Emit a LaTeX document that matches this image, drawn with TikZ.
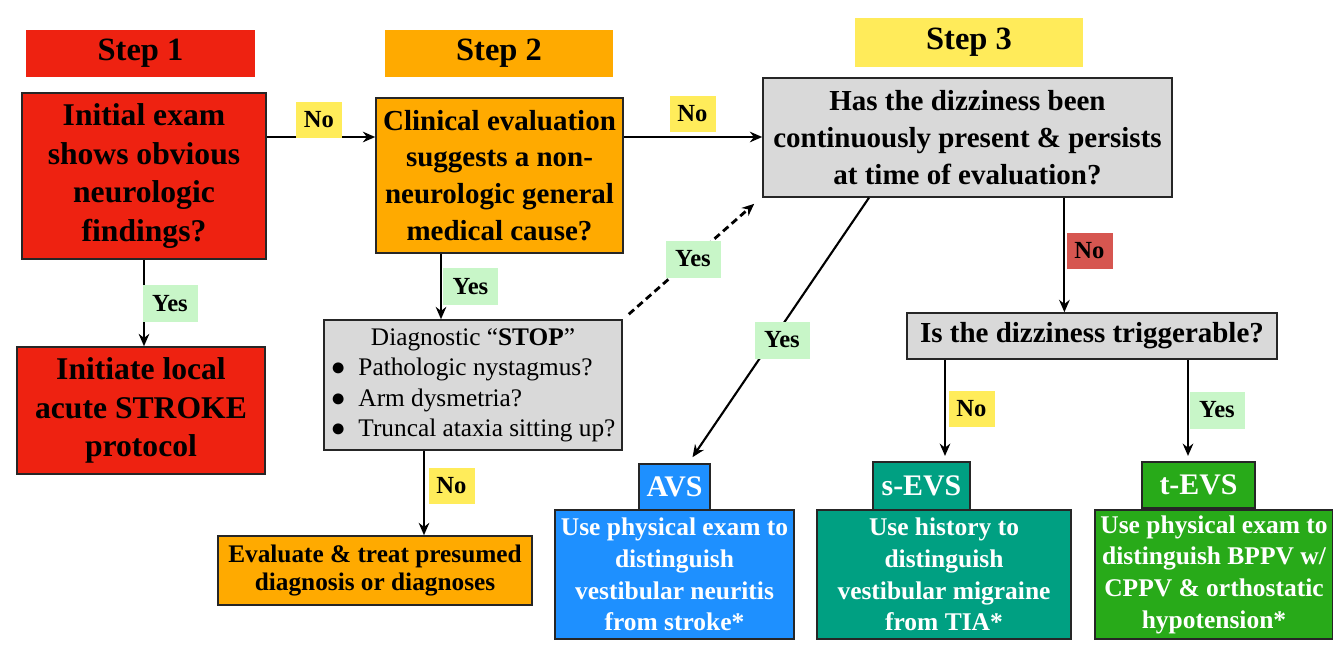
\documentclass[tikz,border=0pt]{standalone}
\usepackage{fontspec}
\setmainfont{Liberation Serif}
\usepackage{tikz}
\usepackage{xcolor}
\usetikzlibrary{calc,arrows.meta}

\definecolor{stepred}{RGB}{238,34,17}
\definecolor{steporange}{RGB}{255,170,0}
\definecolor{stepyellow}{RGB}{255,235,90}
\definecolor{boxgray}{RGB}{217,217,217}
\definecolor{yesgreen}{RGB}{200,246,200}
\definecolor{noyellow}{RGB}{255,236,90}
\definecolor{nored}{RGB}{214,86,80}
\definecolor{avsblue}{RGB}{30,144,255}
\definecolor{sevteal}{RGB}{0,160,130}
\definecolor{tevgreen}{RGB}{40,170,25}

\begin{document}
\begin{tikzpicture}[x=0.02cm,y=-0.02cm,>={Stealth[length=7pt,width=6pt]},
    dims/.style 2 args={minimum width=#1*0.02cm,minimum height=#2*0.02cm,inner sep=0pt},
    stephead/.style={font=\fontsize{18.5}{22}\selectfont\bfseries},
    question/.style={draw=black!85,line width=0.9pt,align=center,
        font=\fontsize{18}{22}\selectfont\bfseries},
    outcome/.style={draw=black!85,line width=0.9pt,align=center,text=white,
        font=\fontsize{14.5}{18}\selectfont\bfseries},
    tab/.style={draw=black!85,line width=0.9pt,text=white,
        font=\fontsize{17}{20}\selectfont\bfseries},
    answer/.style={inner sep=0pt,font=\fontsize{14}{16}\selectfont\bfseries},
    yeslab/.style={answer,fill=yesgreen,dims={55}{37}},
    nolab/.style={answer,fill=noyellow,dims={46}{36}},
    flow/.style={->,line width=1.2pt}]

    % page frame (pixels of the reference, y downwards)
    \useasboundingbox (0,0) rectangle (1333,654);

    % step headers
    \node[stephead,fill=stepred,dims={229}{47}]    (step1) at (140.5,53.5) {Step 1};
    \node[stephead,fill=steporange,dims={228}{47}] (step2) at (499,53.5)   {Step 2};
    \node[stephead,fill=stepyellow,dims={228}{49}] (step3) at (969,42.5)   {Step 3};

    % step 1
    \node[question,fill=stepred,dims={244}{166}] (initial) at (144,176)
        {Initial exam\\shows obvious\\neurologic\\findings?};
    \node[question,fill=stepred,dims={248}{127}] (stroke) at (141,410.5)
        {Initiate local\\acute STROKE\\protocol};

    % step 2
    \node[question,fill=steporange,dims={247}{155},font=\fontsize{16.5}{21}\selectfont\bfseries]
        (clinical) at (499.5,175.5)
        {Clinical evaluation\\suggests a non-\\neurologic general\\medical cause?};
    \node[draw=black!85,line width=0.9pt,fill=boxgray,dims={298}{130},
        font=\fontsize{14.4}{17.3}\selectfont] (stop) at (473,385)
        {\begin{tabular}{@{}l@{}}
            \multicolumn{1}{c}{Diagnostic “\textbf{STOP}”}\\
            ●\enspace Pathologic nystagmus?\\
            ●\enspace Arm dysmetria?\\
            ●\enspace Truncal ataxia sitting up?
        \end{tabular}};
    \node[question,fill=steporange,dims={314}{69},font=\fontsize{14.4}{16.5}\selectfont\bfseries]
        (evaluate) at (375,570.5) {Evaluate \& treat presumed\\diagnosis or diagnoses};

    % step 3
    \node[question,fill=boxgray,dims={409}{119},font=\fontsize{16.5}{21}\selectfont\bfseries]
        (persist) at (967.5,137.5)
        {Has the dizziness been\\continuously present \& persists\\at time of evaluation?};
    \node[question,fill=boxgray,dims={370}{46},font=\fontsize{16.5}{18}\selectfont\bfseries]
        (trigger) at (1092,336) {Is the dizziness triggerable?};

    % outcome boxes with tabs
    \node[outcome,fill=avsblue,dims={239}{129}] (avs) at (674.5,574.5)
        {Use physical exam to\\distinguish\\vestibular neuritis\\from stroke*};
    \node[outcome,fill=sevteal,dims={254}{129}] (sevs) at (944,574.5)
        {Use history to\\distinguish\\vestibular migraine\\from TIA*};
    \node[outcome,fill=tevgreen,dims={238}{129}] (tevs) at (1214,574.5)
        {Use physical exam to\\distinguish BPPV w/\\CPPV \& orthostatic\\hypotension*};
    \node[tab,fill=avsblue,dims={71}{46}]   (avstab) at (674.5,487)  {AVS};
    \node[tab,fill=sevteal,dims={97}{48}]   (sevtab) at (921.5,486)  {s-EVS};
    \node[tab,fill=tevgreen,dims={113}{46}] (tevtab) at (1198.5,485) {t-EVS};

    % helper columns / rows for the connectors
    \coordinate (row)    at (0,137);
    \coordinate (yescol) at (441,0);
    \coordinate (nocol)  at (424,0);
    \coordinate (sevcol) at (945,0);
    \coordinate (tevcol) at (1188,0);

    % connectors
    \draw[flow] (initial.south) -- (initial.south |- stroke.north);
    \draw[flow] (initial.east |- row) -- (clinical.west |- row);
    \draw[flow] (clinical.east |- row) -- (persist.west |- row);
    \draw[flow] (clinical.south -| yescol) -- (stop.north -| yescol);
    \draw[flow] (stop.south -| nocol) -- (evaluate.north -| nocol);
    \draw[flow,line width=1.6pt,dash pattern=on 4pt off 2.5pt]
        ([shift={(6,-5)}]stop.north east) -- ([shift={(-8,6)}]persist.south west);
    \draw[flow] ($(persist.south west)!0.26!(persist.south east)$)
        -- ([shift={(18,-6)}]avstab.north);
    \draw[flow] ($(persist.south west)!0.736!(persist.south east)$) coordinate (nodown)
        -- (nodown |- trigger.north);
    \draw[flow] (trigger.south -| sevcol) -- ([yshift=3]sevtab.north -| sevcol);
    \draw[flow] (trigger.south -| tevcol) -- ([yshift=3]tevtab.north -| tevcol);

    % answer labels
    \node[yeslab] (yes1) at (170,303.5)   {Yes};
    \node[nolab]  (no1)  at (319,120)     {No};
    \node[nolab]  (no2)  at (692.5,113.5) {No};
    \node[yeslab] (yes2) at (470.5,286.5) {Yes};
    \node[yeslab] (yes3) at (693,259)     {Yes};
    \node[yeslab] (yes4) at (782,340)     {Yes};
    \node[nolab,fill=nored] (no3) at (1089.5,251) {No};
    \node[nolab]  (no4)  at (971.5,409)   {No};
    \node[yeslab] (yes5) at (1217,410)    {Yes};
    \node[nolab]  (no5)  at (451.5,485.5) {No};
\end{tikzpicture}
\end{document}
